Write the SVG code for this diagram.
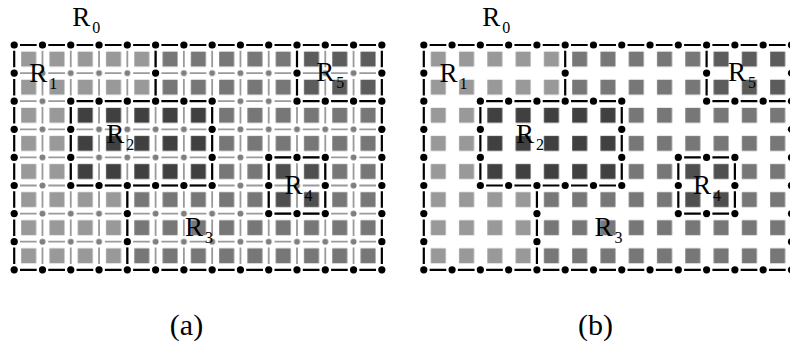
<svg xmlns="http://www.w3.org/2000/svg" width="790" height="345" viewBox="0 0 790 345">
<style>
.gl{stroke:#9a9a9a;stroke-width:1.8;fill:none}
.bl{stroke:#000;stroke-width:2.2;fill:none}
.gh{stroke-dasharray:16.68 11.6;stroke-dashoffset:22.48}
.gv{stroke-dasharray:16.5 11.6;stroke-dashoffset:22.3}
.bd{fill:#000}
.lbl{font-family:"Liberation Serif","Times New Roman",serif;font-size:27px;fill:#000}
.sub{font-size:16px}
.cap{font-family:"Liberation Serif","Times New Roman",serif;font-size:30px;fill:#000;text-anchor:middle}
</style>
<defs>
<pattern id="pL" patternUnits="userSpaceOnUse" x="14.2" y="45" width="28.28" height="28.1"><rect x="7" y="6.6" width="15" height="15" fill="#999999"/></pattern>
<pattern id="pM" patternUnits="userSpaceOnUse" x="14.2" y="45" width="28.28" height="28.1"><rect x="7" y="6.6" width="15" height="15" fill="#777777"/></pattern>
<pattern id="pD" patternUnits="userSpaceOnUse" x="14.2" y="45" width="28.28" height="28.1"><rect x="7" y="6.6" width="15" height="15" fill="#404040"/></pattern>
<pattern id="p4" patternUnits="userSpaceOnUse" x="14.2" y="45" width="28.28" height="28.1"><rect x="7" y="6.6" width="15" height="15" fill="#4f4f4f"/></pattern>
<pattern id="p5" patternUnits="userSpaceOnUse" x="14.2" y="45" width="28.28" height="28.1"><rect x="7" y="6.6" width="15" height="15" fill="#5c5c5c"/></pattern>
<pattern id="pg" patternUnits="userSpaceOnUse" x="0.06" y="30.95" width="28.28" height="28.1"><circle cx="14.14" cy="14.05" r="3" fill="#7f7f7f"/></pattern>
<g id="tiles">
<path fill="url(#pM)" fill-rule="evenodd" d="M14.2,45H381.84V269.8H14.2Z M14.2,45H155.6V101.2H70.76V185.5H127.32V269.8H14.2Z M70.76,101.2H212.16V185.5H70.76Z M297,45H381.84V101.2H297Z M268.72,157.4H325.28V213.6H268.72Z"/>
<path fill="url(#pL)" d="M14.2,45H155.6V101.2H70.76V185.5H127.32V269.8H14.2Z"/>
<rect fill="url(#pD)" x="70.76" y="101.2" width="141.4" height="84.3"/>
<rect fill="url(#p5)" x="297" y="45" width="84.84" height="56.2"/>
<rect fill="url(#p4)" x="268.72" y="157.4" width="56.56" height="56.2"/>
</g>
<g id="bounds">
<line class="bl gh" x1="14.2" y1="45" x2="381.84" y2="45"/>
<line class="bl gh" x1="14.2" y1="269.8" x2="381.84" y2="269.8"/>
<line class="bl gh" x1="70.76" y1="101.2" x2="212.16" y2="101.2"/>
<line class="bl gh" x1="70.76" y1="185.5" x2="212.16" y2="185.5"/>
<line class="bl gh" x1="297" y1="101.2" x2="381.84" y2="101.2"/>
<line class="bl gh" x1="268.72" y1="157.4" x2="325.28" y2="157.4"/>
<line class="bl gh" x1="268.72" y1="213.6" x2="325.28" y2="213.6"/>
<line class="bl gv" x1="14.2" y1="45" x2="14.2" y2="269.8"/>
<line class="bl gv" x1="381.84" y1="45" x2="381.84" y2="269.8"/>
<line class="bl gv" x1="155.6" y1="45" x2="155.6" y2="101.2"/>
<line class="bl gv" x1="70.76" y1="101.2" x2="70.76" y2="185.5"/>
<line class="bl gv" x1="212.16" y1="101.2" x2="212.16" y2="185.5"/>
<line class="bl gv" x1="127.32" y1="185.5" x2="127.32" y2="269.8"/>
<line class="bl gv" x1="297" y1="45" x2="297" y2="101.2"/>
<line class="bl gv" x1="268.72" y1="157.4" x2="268.72" y2="213.6"/>
<line class="bl gv" x1="325.28" y1="157.4" x2="325.28" y2="213.6"/>
<g class="bd">
<circle cx="14.2" cy="45" r="3.6"/><circle cx="42.48" cy="45" r="3.6"/><circle cx="70.76" cy="45" r="3.6"/><circle cx="99.04" cy="45" r="3.6"/><circle cx="127.32" cy="45" r="3.6"/><circle cx="155.6" cy="45" r="3.6"/><circle cx="183.88" cy="45" r="3.6"/><circle cx="212.16" cy="45" r="3.6"/><circle cx="240.44" cy="45" r="3.6"/><circle cx="268.72" cy="45" r="3.6"/><circle cx="297" cy="45" r="3.6"/><circle cx="325.28" cy="45" r="3.6"/><circle cx="353.56" cy="45" r="3.6"/><circle cx="381.84" cy="45" r="3.6"/>
<circle cx="14.2" cy="269.8" r="3.6"/><circle cx="42.48" cy="269.8" r="3.6"/><circle cx="70.76" cy="269.8" r="3.6"/><circle cx="99.04" cy="269.8" r="3.6"/><circle cx="127.32" cy="269.8" r="3.6"/><circle cx="155.6" cy="269.8" r="3.6"/><circle cx="183.88" cy="269.8" r="3.6"/><circle cx="212.16" cy="269.8" r="3.6"/><circle cx="240.44" cy="269.8" r="3.6"/><circle cx="268.72" cy="269.8" r="3.6"/><circle cx="297" cy="269.8" r="3.6"/><circle cx="325.28" cy="269.8" r="3.6"/><circle cx="353.56" cy="269.8" r="3.6"/><circle cx="381.84" cy="269.8" r="3.6"/>
<circle cx="14.2" cy="73.1" r="3.6"/><circle cx="14.2" cy="101.2" r="3.6"/><circle cx="14.2" cy="129.3" r="3.6"/><circle cx="14.2" cy="157.4" r="3.6"/><circle cx="14.2" cy="185.5" r="3.6"/><circle cx="14.2" cy="213.6" r="3.6"/><circle cx="14.2" cy="241.7" r="3.6"/>
<circle cx="381.84" cy="73.1" r="3.6"/><circle cx="381.84" cy="101.2" r="3.6"/><circle cx="381.84" cy="129.3" r="3.6"/><circle cx="381.84" cy="157.4" r="3.6"/><circle cx="381.84" cy="185.5" r="3.6"/><circle cx="381.84" cy="213.6" r="3.6"/><circle cx="381.84" cy="241.7" r="3.6"/>
<circle cx="155.6" cy="73.1" r="3.6"/>
<circle cx="70.76" cy="101.2" r="3.6"/><circle cx="99.04" cy="101.2" r="3.6"/><circle cx="127.32" cy="101.2" r="3.6"/><circle cx="155.6" cy="101.2" r="3.6"/><circle cx="183.88" cy="101.2" r="3.6"/><circle cx="212.16" cy="101.2" r="3.6"/>
<circle cx="70.76" cy="185.5" r="3.6"/><circle cx="99.04" cy="185.5" r="3.6"/><circle cx="127.32" cy="185.5" r="3.6"/><circle cx="155.6" cy="185.5" r="3.6"/><circle cx="183.88" cy="185.5" r="3.6"/><circle cx="212.16" cy="185.5" r="3.6"/>
<circle cx="70.76" cy="129.3" r="3.6"/><circle cx="70.76" cy="157.4" r="3.6"/><circle cx="212.16" cy="129.3" r="3.6"/><circle cx="212.16" cy="157.4" r="3.6"/>
<circle cx="127.32" cy="213.6" r="3.6"/><circle cx="127.32" cy="241.7" r="3.6"/>
<circle cx="297" cy="73.1" r="3.6"/><circle cx="297" cy="101.2" r="3.6"/><circle cx="325.28" cy="101.2" r="3.6"/><circle cx="353.56" cy="101.2" r="3.6"/>
<circle cx="268.72" cy="157.4" r="3.6"/><circle cx="297" cy="157.4" r="3.6"/><circle cx="325.28" cy="157.4" r="3.6"/>
<circle cx="268.72" cy="213.6" r="3.6"/><circle cx="297" cy="213.6" r="3.6"/><circle cx="325.28" cy="213.6" r="3.6"/>
<circle cx="268.72" cy="185.5" r="3.6"/><circle cx="325.28" cy="185.5" r="3.6"/>
</g>
</g>
</defs>
<rect width="790" height="345" fill="#fff"/>
<g id="panel-a">
<use href="#tiles"/>
<g id="grid-a">
<line class="gl gh" x1="14.2" y1="73.1" x2="381.84" y2="73.1"/>
<line class="gl gh" x1="14.2" y1="101.2" x2="381.84" y2="101.2"/>
<line class="gl gh" x1="14.2" y1="129.3" x2="381.84" y2="129.3"/>
<line class="gl gh" x1="14.2" y1="157.4" x2="381.84" y2="157.4"/>
<line class="gl gh" x1="14.2" y1="185.5" x2="381.84" y2="185.5"/>
<line class="gl gh" x1="14.2" y1="213.6" x2="381.84" y2="213.6"/>
<line class="gl gh" x1="14.2" y1="241.7" x2="381.84" y2="241.7"/>
<line class="gl gv" x1="42.48" y1="45" x2="42.48" y2="269.8"/>
<line class="gl gv" x1="70.76" y1="45" x2="70.76" y2="269.8"/>
<line class="gl gv" x1="99.04" y1="45" x2="99.04" y2="269.8"/>
<line class="gl gv" x1="127.32" y1="45" x2="127.32" y2="269.8"/>
<line class="gl gv" x1="155.6" y1="45" x2="155.6" y2="269.8"/>
<line class="gl gv" x1="183.88" y1="45" x2="183.88" y2="269.8"/>
<line class="gl gv" x1="212.16" y1="45" x2="212.16" y2="269.8"/>
<line class="gl gv" x1="240.44" y1="45" x2="240.44" y2="269.8"/>
<line class="gl gv" x1="268.72" y1="45" x2="268.72" y2="269.8"/>
<line class="gl gv" x1="297" y1="45" x2="297" y2="269.8"/>
<line class="gl gv" x1="325.28" y1="45" x2="325.28" y2="269.8"/>
<line class="gl gv" x1="353.56" y1="45" x2="353.56" y2="269.8"/>
<rect x="0.06" y="30.95" width="395.92" height="252.9" fill="url(#pg)"/>
</g>
<use href="#bounds"/>
<g id="labels-a" class="lbl">
<text x="72.2" y="25.5">R<tspan class="sub" dx="2" dy="7">0</tspan></text>
<text x="29.3" y="81.5">R<tspan class="sub" dx="2" dy="7">1</tspan></text>
<text x="106.2" y="143.3">R<tspan class="sub" dx="2" dy="7">2</tspan></text>
<text x="185" y="236">R<tspan class="sub" dx="2" dy="7">3</tspan></text>
<text x="284.5" y="193.5">R<tspan class="sub" dx="2" dy="7">4</tspan></text>
<text x="316.3" y="80.5">R<tspan class="sub" dx="2" dy="7">5</tspan></text>
</g>
</g>
<g id="panel-b">
<use href="#tiles" x="409.6"/>
<use href="#bounds" x="409.6"/>
<g id="labels-b" class="lbl">
<text x="482.2" y="25.5">R<tspan class="sub" dx="2" dy="7">0</tspan></text>
<text x="439.5" y="81.5">R<tspan class="sub" dx="2" dy="7">1</tspan></text>
<text x="516" y="143.3">R<tspan class="sub" dx="2" dy="7">2</tspan></text>
<text x="594.6" y="236">R<tspan class="sub" dx="2" dy="7">3</tspan></text>
<text x="693" y="194">R<tspan class="sub" dx="2" dy="7">4</tspan></text>
<text x="728" y="81">R<tspan class="sub" dx="2" dy="7">5</tspan></text>
</g>
</g>
<g id="captions" class="cap">
<text x="186.5" y="335">(a)</text>
<text x="595.5" y="335">(b)</text>
</g>
</svg>
